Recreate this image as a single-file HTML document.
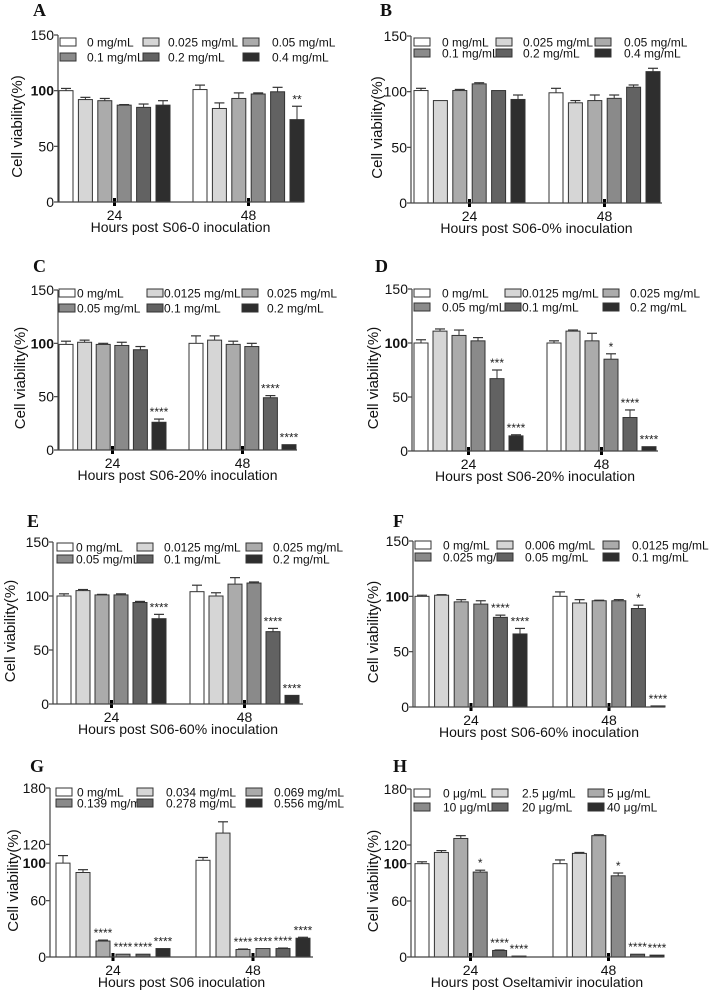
<!DOCTYPE html>
<html><head><meta charset="utf-8"><style>
html,body{margin:0;padding:0;background:#fff;}
svg{display:block;font-family:"Liberation Sans",sans-serif;}
</style></head><body>
<svg id="fig" width="715" height="992" viewBox="0 0 715 992"></svg>
<script>
const groups = ["24","48"];
const ticksStd = [0,50,100,150];
const ticksHi = [0,60,100,120,180];
const aVals24=[100,92,91,87,85,87], aVals48=[101,84,93,97,99,74];
const aErr24=[2,2,2,0.5,3,4], aErr48=[4,5,5,1,4,12];
const aStars24=["","","","","",""], aStars48=["","","","","","**"];
const aLegend=["0 mg/mL","0.025 mg/mL","0.05 mg/mL","0.1 mg/mL","0.2 mg/mL","0.4 mg/mL"];
const bVals24=[101,92,101,107,101,93], bVals48=[99,90,92,94,104,118];
const bErr24=[2,0,1,1,0,4], bErr48=[4,2,5,3,2,3];
const bStars24=["","","","","",""], bStars48=["","","","","",""];
const bLegend=aLegend;
const cVals24=[99,101,99,98,94,26], cVals48=[100,103,99,97,49,5];
const cErr24=[3,2,1,3,3,3], cErr48=[7,4,3,3,2,0];
const cStars24=["","","","","","****"], cStars48=["","","","","****","****"];
const cLegend=["0 mg/mL","0.0125 mg/mL","0.025 mg/mL","0.05 mg/mL","0.1 mg/mL","0.2 mg/mL"];
const dVals24=[100,111,107,102,67,14], dVals48=[100,111,102,85,31,4];
const dErr24=[3,2,5,3,8,1], dErr48=[2,1,7,5,7,0];
const dStars24=["","","","","***","****"], dStars48=["","","","*","****","****"];
const dLegend=cLegend;
const eVals24=[100,105,101,101,94,79], eVals48=[104,100,111,112,67,8];
const eErr24=[2,1,0.5,1,1,4], eErr48=[6,3,6,1,3,0];
const eStars24=["","","","","","****"], eStars48=["","","","","****","****"];
const eLegend=cLegend;
const fVals24=[100,101,95,93,81,66], fVals48=[100,94,96,96,89,1];
const fErr24=[1,0.5,2,3,2,5], fErr48=[4,3,0.5,1,3,0];
const fStars24=["","","","","****","****"], fStars48=["","","","","*","****"];
const fLegend=["0 mg/mL","0.006 mg/mL","0.0125 mg/mL","0.025 mg/mL","0.05 mg/mL","0.1 mg/mL"];
const gVals24=[100,90,17,3,3,9], gVals48=[103,132,8,9,9,20];
const gErr24=[8,3,1,0,0,0], gErr48=[3,12,0.5,0,0.5,1];
const gStars24=["","","****","****","****","****"], gStars48=["","","****","****","****","****"];
const gLegend=["0 mg/mL","0.034 mg/mL","0.069 mg/mL","0.139 mg/mL","0.278 mg/mL","0.556 mg/mL"];
const hVals24=[100,112,127,91,7,1], hVals48=[100,111,130,87,3,2];
const hErr24=[2,2,3,2,0.5,0], hErr48=[4,1,1,3,0,0];
const hStars24=["","","","*","****","****"], hStars48=["","","","*","****","****"];
const hLegend=["0 μg/mL","2.5 μg/mL","5 μg/mL","10 μg/mL","20 μg/mL","40 μg/mL"];

const fills=["#ffffff","#d6d6d6","#ababab","#8a8a8a","#626262","#2e2e2e"];
const NS="http://www.w3.org/2000/svg";
const svg=document.getElementById('fig');
function mk(tag,attrs,parent,text){const e=document.createElementNS(NS,tag);for(const k in attrs)e.setAttribute(k,attrs[k]);if(text!==undefined)e.textContent=text;(parent||svg).appendChild(e);return e;}

const panels=[
 {id:"a",L:"A",lx:33,ly:16,ax:58,top:35,zero:202,b0:59,g1:193,p:19.4,end:303,max:150,ticks:ticksStd,ylx:17,title:"Hours post S06-0 inoculation",v:[aVals24,aVals48],e:[aErr24,aErr48],s:[aStars24,aStars48],leg:aLegend,ro:[7,22],sw:[60,143,243],tx:[87,168,272],bold:true},
 {id:"b",L:"B",lx:380,ly:16,ax:411,top:36,zero:203,b0:414,g1:549,p:19.4,end:662,max:150,ticks:ticksStd,ylx:377,title:"Hours post S06-0% inoculation",v:[bVals24,bVals48],e:[bErr24,bErr48],s:[bStars24,bStars48],leg:bLegend,ro:[6,17],sw:[414,496,595],tx:[442,523,624],bold:false},
 {id:"c",L:"C",lx:33,ly:272,ax:58,top:290,zero:450,b0:59,g1:189,p:18.6,end:297,max:150,ticks:ticksStd,ylx:20,title:"Hours post S06-20% inoculation",v:[cVals24,cVals48],e:[cErr24,cErr48],s:[cStars24,cStars48],leg:cLegend,ro:[3,18],sw:[59,147,242],tx:[77,164,267],bold:true},
 {id:"d",L:"D",lx:375,ly:272,ax:412,top:289,zero:451,b0:414,g1:547,p:19,end:658,max:150,ticks:ticksStd,ylx:373,title:"Hours post S06-20% inoculation",v:[dVals24,dVals48],e:[dErr24,dErr48],s:[dStars24,dStars48],leg:dLegend,ro:[4,18],sw:[414,505,603],tx:[442,522,630],bold:true},
 {id:"e",L:"E",lx:27,ly:527,ax:53,top:542,zero:704,b0:57,g1:190,p:19,end:303,max:150,ticks:ticksStd,ylx:10,title:"Hours post S06-60% inoculation",v:[eVals24,eVals48],e:[eErr24,eErr48],s:[eStars24,eStars48],leg:eLegend,ro:[5,17],sw:[57,137,246],tx:[76,164,273],bold:false},
 {id:"f",L:"F",lx:393,ly:527,ax:413,top:541,zero:707,b0:415,g1:553,p:19.6,end:665,max:150,ticks:ticksStd,ylx:373,title:"Hours post S06-60% inoculation",v:[fVals24,fVals48],e:[fErr24,fErr48],s:[fStars24,fStars48],leg:fLegend,ro:[4,16],sw:[415,497,603],tx:[443,525,632],bold:true},
 {id:"g",L:"G",lx:30,ly:772,ax:50,top:788,zero:957,b0:56,g1:196,p:20,end:313,max:180,ticks:ticksHi,ylx:13,title:"Hours post S06 inoculation",v:[gVals24,gVals48],e:[gErr24,gErr48],s:[gStars24,gStars48],leg:gLegend,ro:[4,15],sw:[56,137,246],tx:[77,166,274],bold:true},
 {id:"h",L:"H",lx:393,ly:772,ax:411,top:789,zero:957,b0:415,g1:553,p:19.4,end:663,max:180,ticks:ticksHi,ylx:373,title:"Hours post Oseltamivir inoculation",v:[hVals24,hVals48],e:[hErr24,hErr48],s:[hStars24,hStars48],leg:hLegend,ro:[4,18],sw:[414,492,588],tx:[443,522,607],bold:true}
];

panels.forEach(P=>{
  const g=mk('g',{});
  
  
  const y=v=>P.zero-(v/P.max)*(P.zero-P.top);
  const x=(gi,i)=>(gi===0?P.b0:P.g1)+i*P.p;
  const bw=14;
  const lt=mk('text',{x:P.lx,y:P.ly,'font-family':'Liberation Serif,serif','font-weight':'bold','font-size':18,fill:'#111'},g,P.L);
  
  
  P.v.forEach((vals,gi)=>{
    vals.forEach((v,i)=>{
      const bx=x(gi,i), by=y(v);
      const r=mk('rect',{x:bx,y:by,width:bw,height:Math.max(P.zero-by,1),fill:fills[i],stroke:'#333','stroke-width':1},g);
      
      
      const ev=P.e[gi][i];
      if(ev>0){
        const ey=y(v+ev);
        mk('line',{x1:bx+bw/2,x2:bx+bw/2,y1:by,y2:ey,stroke:'#333','stroke-width':1},g);
        mk('line',{x1:bx+2,x2:bx+bw-2,y1:ey,y2:ey,stroke:'#333','stroke-width':1.2},g);
      }
      const st=P.s[gi][i];
      if(st){
        const t=mk('text',{x:bx+bw/2,y:y(v+ev)-3,'text-anchor':'middle','font-size':12,fill:'#222'},g,st);
        
        
      }
    });
    const cx=(x(gi,2)+bw+x(gi,3))/2;
    mk('rect',{x:cx-1.5,y:P.zero-4,width:3,height:8,fill:'#000'},g);
    const gl=mk('text',{x:cx,y:P.zero+18,'text-anchor':'middle','font-size':14,fill:'#111'},g,groups[gi]);
    
    
  });
  mk('line',{x1:P.ax,x2:P.ax,y1:P.top,y2:P.zero,stroke:'#444','stroke-width':1.2},g);
  mk('line',{x1:P.ax,x2:P.end,y1:P.zero,y2:P.zero,stroke:'#444','stroke-width':1.2},g);
  P.ticks.forEach(t=>{
    const ty=y(t);
    mk('line',{x1:P.ax-4,x2:P.ax,y1:ty,y2:ty,stroke:'#444','stroke-width':1.2},g);
    const tl=mk('text',{x:P.ax-4,y:ty+5,'text-anchor':'end','font-size':14,'font-weight':(t===100&&P.bold)?'bold':'normal',fill:'#111'},g,String(t));
    
    
  });
  const ymid=(P.top+P.zero)/2+8;
  const yl=mk('text',{x:P.ylx,y:ymid,'text-anchor':'middle','font-size':15,fill:'#111',transform:`rotate(-90 ${P.ylx} ${ymid})`,dy:5},g,'Cell viability(%)');
  
  
  const xt=mk('text',{x:(P.ax+P.end)/2,y:P.zero+30,'text-anchor':'middle','font-size':14,fill:'#111'},g,P.title);
  
  
  P.leg.forEach((lab,i)=>{
    const row=Math.floor(i/3), col=i%3;
    const cy=P.top+P.ro[row];
    const le=mk('g',{},g);
    
    
    mk('rect',{x:P.sw[col],y:cy-4,width:16,height:8,fill:fills[i],stroke:'#333','stroke-width':1},le);
    mk('text',{x:P.tx[col],y:cy+4.5,'font-size':12,fill:'#111'},le,lab);
  });
});
</script>
</body></html>
